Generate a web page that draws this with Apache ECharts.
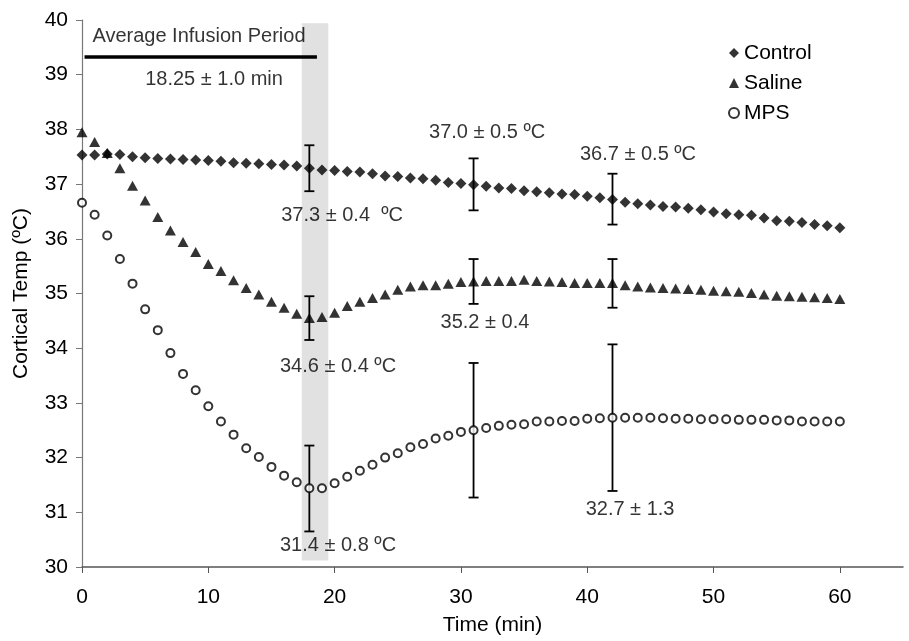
<!DOCTYPE html>
<html>
<head>
<meta charset="utf-8">
<script src="https://cdn.jsdelivr.net/npm/echarts@6/dist/echarts.min.js"></script>
<style>
  html, body { margin: 0; padding: 0; background: #fff; }
  #chart { width: 909px; height: 641px; }
</style>
</head>
<body>
<div id="chart"></div>
<script>
// 时间（分钟），每分钟一个点
var minutes = [];
for (var m = 0; m <= 60; m++) minutes.push(m);

var controlTemp = [
  37.53, 37.53, 37.55, 37.54, 37.50, 37.48, 37.47, 37.46, 37.45, 37.44,
  37.43, 37.42, 37.39, 37.38, 37.37, 37.36, 37.35, 37.33, 37.29, 37.26,
  37.25, 37.23, 37.22, 37.19, 37.15, 37.14, 37.11, 37.10, 37.07, 37.03,
  37.01, 36.99, 36.96, 36.93, 36.92, 36.88, 36.86, 36.84, 36.82, 36.81,
  36.78, 36.75, 36.72, 36.67, 36.64, 36.62, 36.59, 36.58, 36.56, 36.53,
  36.49, 36.46, 36.44, 36.43, 36.38, 36.33, 36.32, 36.30, 36.26, 36.24,
  36.20
];
var salineTemp = [
  37.95, 37.77, 37.57, 37.29, 36.97, 36.70, 36.40, 36.15, 35.94, 35.76,
  35.54, 35.41, 35.24, 35.10, 34.98, 34.85, 34.74, 34.63, 34.55, 34.57,
  34.65, 34.77, 34.85, 34.92, 34.98, 35.07, 35.13, 35.15, 35.15, 35.18,
  35.21, 35.22, 35.23, 35.23, 35.23, 35.25, 35.23, 35.22, 35.21, 35.19,
  35.19, 35.19, 35.19, 35.15, 35.13, 35.11, 35.10, 35.09, 35.08, 35.07,
  35.05, 35.04, 35.03, 35.01, 34.98, 34.96, 34.95, 34.94, 34.93, 34.92,
  34.90
];
var mpsTemp = [
  36.66, 36.44, 36.06, 35.63, 35.18, 34.71, 34.33, 33.91, 33.53, 33.23,
  32.94, 32.66, 32.42, 32.17, 32.01, 31.83, 31.67, 31.55, 31.44, 31.44,
  31.53, 31.65, 31.76, 31.87, 32.00, 32.08, 32.19, 32.25, 32.35, 32.40,
  32.47, 32.50, 32.54, 32.58, 32.60, 32.61, 32.66, 32.66, 32.67, 32.67,
  32.71, 32.72, 32.73, 32.73, 32.73, 32.73, 32.72, 32.71, 32.71, 32.70,
  32.70, 32.70, 32.69, 32.69, 32.69, 32.68, 32.68, 32.66, 32.66, 32.66,
  32.66
];

// 误差线 [时间, 下限, 上限]
var errorBars = [
  [18, 36.87, 37.71], [31, 36.52, 37.47], [42, 36.26, 37.19],
  [18, 34.15, 34.95], [31, 34.81, 35.63], [42, 34.74, 35.63],
  [18, 30.65, 32.22], [31, 31.27, 33.73], [42, 31.39, 34.07]
];

// 注释文字 [时间, 温度, 文字]
var notes = [
  [9.26, 39.69, 'Average Infusion Period'],
  [10.45, 38.91, '18.25 ± 1.0 min'],
  [20.59, 36.43, '37.3 ± 0.4  ºC'],
  [20.27, 33.67, '34.6 ± 0.4 ºC'],
  [20.27, 30.39, '31.4 ± 0.8 ºC'],
  [32.07, 37.95, '37.0 ± 0.5 ºC'],
  [44.02, 37.55, '36.7 ± 0.5 ºC'],
  [31.9, 34.47, '35.2 ± 0.4'],
  [43.39, 31.06, '32.7 ± 1.3']
];

var infusionSpan = [0.2, 18.6];
var infusionLevel = 39.32;
var bandSpan = [17.4, 19.5];
var bandTemp = [30.12, 39.94];

var xTicks = [0, 10, 20, 30, 40, 50, 60];
var seriesNames = ['Control', 'Saline', 'MPS'];

function pairs(vals) {
  return minutes.map(function (t, i) { return [t, vals[i]]; });
}

var FONT = '"Liberation Sans", Arial, Helvetica, sans-serif';

var chart = echarts.init(document.getElementById('chart'));
chart.setOption({
  animation: false,
  backgroundColor: '#fff',
  textStyle: { fontFamily: FONT, color: '#000' },
  grid: { left: 82, right: 6, top: 20, bottom: 69 },
  legend: {
    orient: 'vertical',
    left: 723,
    top: 37,
    itemWidth: 10,
    itemHeight: 10,
    itemGap: 8,
    textStyle: { fontFamily: FONT, fontSize: 21, color: '#000', lineHeight: 22 },
    data: [
      { name: 'Control', icon: 'diamond' },
      { name: 'Saline', icon: 'triangle' },
      { name: 'MPS', icon: 'emptyCircle' }
    ]
  },
  xAxis: {
    type: 'value',
    min: 0,
    max: 65,
    interval: 10,
    name: 'Time (min)',
    nameLocation: 'middle',
    nameGap: 48,
    nameTextStyle: { fontFamily: FONT, fontSize: 21, color: '#000' },
    axisLine: { lineStyle: { color: '#555', width: 1.5 } },
    axisTick: { customValues: xTicks, length: 6, lineStyle: { color: '#555' } },
    axisLabel: { customValues: xTicks, fontSize: 21, color: '#000', margin: 20 },
    splitLine: { show: false }
  },
  yAxis: {
    type: 'value',
    min: 30,
    max: 40,
    interval: 1,
    name: 'Cortical Temp (ºC)',
    nameLocation: 'middle',
    nameGap: 50,
    nameTextStyle: { fontFamily: FONT, fontSize: 21, color: '#000' },
    axisLine: { show: true, lineStyle: { color: '#777', width: 1.2 } },
    axisTick: { show: true, length: 6, lineStyle: { color: '#777' } },
    axisLabel: { fontSize: 21, color: '#000', margin: 14 },
    splitLine: { show: false }
  },
  series: [
    {
      name: 'notes',
      type: 'scatter',
      z: 1,
      silent: true,
      symbolSize: 1,
      itemStyle: { color: 'rgba(0,0,0,0)' },
      data: notes.map(function (n) { return { value: [n[0], n[1]], name: n[2] }; }),
      label: {
        show: true,
        position: 'inside',
        formatter: '{b}',
        fontFamily: FONT,
        fontSize: 20,
        color: '#000'
      },
      markArea: {
        silent: true,
        itemStyle: { color: '#e1e1e1' },
        data: [[{ coord: [bandSpan[0], bandTemp[1]] }, { coord: [bandSpan[1], bandTemp[0]] }]]
      },
      markLine: {
        silent: true,
        symbol: 'none',
        label: { show: false },
        lineStyle: { color: '#000', width: 3.5, type: 'solid' },
        data: [[{ coord: [infusionSpan[0], infusionLevel] }, { coord: [infusionSpan[1], infusionLevel] }]]
      }
    },
    {
      name: 'errors',
      type: 'custom',
      z: 3,
      silent: true,
      data: errorBars,
      encode: { x: 0, y: [1, 2] },
      renderItem: function (params, api) {
        var lo = api.coord([api.value(0), api.value(1)]);
        var hi = api.coord([api.value(0), api.value(2)]);
        var w = 5;
        var st = { stroke: '#000', lineWidth: 1.8 };
        return {
          type: 'group',
          children: [
            { type: 'line', shape: { x1: lo[0], y1: lo[1], x2: hi[0], y2: hi[1] }, style: st },
            { type: 'line', shape: { x1: lo[0] - w, y1: lo[1], x2: lo[0] + w, y2: lo[1] }, style: st },
            { type: 'line', shape: { x1: hi[0] - w, y1: hi[1], x2: hi[0] + w, y2: hi[1] }, style: st }
          ]
        };
      }
    },
    {
      name: seriesNames[0],
      type: 'scatter',
      z: 4,
      symbol: 'diamond',
      symbolSize: [11, 11],
      itemStyle: { color: '#000' },
      data: pairs(controlTemp)
    },
    {
      name: seriesNames[1],
      type: 'scatter',
      z: 4,
      symbol: 'triangle',
      symbolSize: [11, 10],
      itemStyle: { color: '#000' },
      data: pairs(salineTemp)
    },
    {
      name: seriesNames[2],
      type: 'scatter',
      z: 4,
      symbol: 'emptyCircle',
      symbolSize: 8,
      itemStyle: { color: '#000', borderColor: '#000', borderWidth: 1.8 },
      data: pairs(mpsTemp)
    }
  ]
});
</script>
</body>
</html>
